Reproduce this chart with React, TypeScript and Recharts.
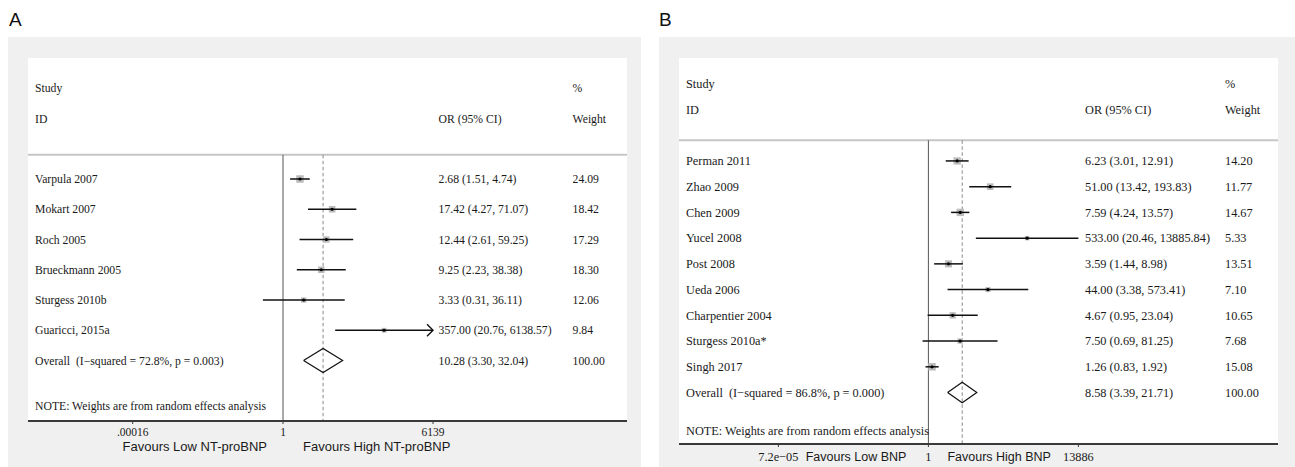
import React from 'react';
import { ScatterChart, Scatter, XAxis, YAxis, ReferenceLine, CartesianGrid } from 'recharts';

// ---- Panel A: NT-proBNP ----
const studiesA = ['Varpula 2007', 'Mokart 2007', 'Roch 2005', 'Brueckmann 2005', 'Sturgess 2010b', 'Guaricci, 2015a'];
const orA = [2.68, 17.42, 12.44, 9.25, 3.33, 357.0];
const lowA = [1.51, 4.27, 2.61, 2.23, 0.31, 20.76];
const highA = [4.74, 71.07, 59.25, 38.38, 36.11, 6138.57];
const weightA = [24.09, 18.42, 17.29, 18.3, 12.06, 9.84];
const arrowA = [false, false, false, false, false, true];
const overallA = [10.28, 3.3, 32.04]; // pooled OR, lower, upper
const hetA = 'Overall  (I\u2212squared = 72.8%, p = 0.003)';
const ticksA = [0.00016, 1, 6139];
const tickTextA = ['.00016', '1', '6139'];
const favoursA = ['Favours Low NT-proBNP', 'Favours High NT-proBNP'];

// ---- Panel B: BNP ----
const studiesB = ['Perman 2011', 'Zhao 2009', 'Chen 2009', 'Yucel 2008', 'Post 2008', 'Ueda 2006', 'Charpentier 2004', 'Sturgess 2010a*', 'Singh 2017'];
const orB = [6.23, 51.0, 7.59, 533.0, 3.59, 44.0, 4.67, 7.5, 1.26];
const lowB = [3.01, 13.42, 4.24, 20.46, 1.44, 3.38, 0.95, 0.69, 0.83];
const highB = [12.91, 193.83, 13.57, 13885.84, 8.98, 573.41, 23.04, 81.25, 1.92];
const weightB = [14.2, 11.77, 14.67, 5.33, 13.51, 7.1, 10.65, 7.68, 15.08];
const arrowB = [false, false, false, false, false, false, false, false, false];
const overallB = [8.58, 3.39, 21.71];
const hetB = 'Overall  (I\u2212squared = 86.8%, p = 0.000)';
const ticksB = [7.2e-5, 1, 13886];
const tickTextB = ['7.2e\u221205', '1', '13886'];
const favoursB = ['Favours Low BNP', 'Favours High BNP'];

const overallWeight = 100;
const note = 'NOTE: Weights are from random effects analysis';

const SERIF = "'Liberation Serif', 'Times New Roman', serif";
const SANS = "'Liberation Sans', Arial, sans-serif";
const INK = '#1a1a1a';

type Layout = {
  panelLeft: number;
  panelWidth: number;
  plotLeft: number;
  plotWidth: number;
  plotHeight: number;
  axisHeight: number;
  xDomain: [number, number];
  font: number;
  tickFont: number;
  favFont: number;
  tickDy: number;
  favDy: number;
  favGap: [number, number];
  colStudy: number;
  colOR: number;
  colW: number;
  box: number;
};

type PanelProps = {
  letter: string;
  studies: string[];
  or: number[];
  low: number[];
  high: number[];
  weight: number[];
  arrow: boolean[];
  overall: number[];
  het: string;
  ticks: number[];
  tickText: string[];
  favours: string[];
  layout: Layout;
};

const fmt = (v: number) => v.toFixed(2);
// the row-label axis needs a non-zero width to be drawn
const Y_AXIS_W = 1;

function Panel(p: PanelProps) {
  const L = p.layout;
  const n = p.studies.length;
  const yMin = -4;
  const yMax = n + 2;
  const sepRow = -0.8;
  const noteRow = n + 1.5;
  const o = p.overall;

  // text rows: [study column, OR column, weight column]
  const rows = new Map<number, string[]>();
  rows.set(-3, ['Study', '', '%']);
  rows.set(-2, ['ID', 'OR (95% CI)', 'Weight']);
  p.studies.forEach((s, i) =>
    rows.set(i, [s, `${fmt(p.or[i])} (${fmt(p.low[i])}, ${fmt(p.high[i])})`, fmt(p.weight[i])])
  );
  rows.set(n, [p.het, `${fmt(o[0])} (${fmt(o[1])}, ${fmt(o[2])})`, fmt(overallWeight)]);
  rows.set(noteRow, [note, '', '']);
  const rowKeys = Array.from(rows.keys());

  const pts = p.studies.map((_, i) => ({ x: p.or[i], y: i, w: p.weight[i] }));
  const maxW = Math.max(...p.weight);
  const arrowPts = pts.filter((_, i) => p.arrow[i]).map((d) => ({ x: p.high[d.y], y: d.y }));
  const diamond = [
    { x: o[1], y: n },
    { x: o[0], y: n - 0.4 },
    { x: o[2], y: n },
    { x: o[0], y: n + 0.4 },
    { x: o[1], y: n },
  ];

  const yTick = (props: any) => {
    const r = rows.get(props.payload.value);
    if (!r) return <g />;
    const y = props.y;
    const x0 = Y_AXIS_W;
    return (
      <g fontFamily={SERIF} fontSize={L.font} fill={INK}>
        <text x={x0 + L.colStudy} y={y} dy="0.35em" textAnchor="start" xmlSpace="preserve" style={{ whiteSpace: 'pre' }}>
          {r[0]}
        </text>
        {r[1] ? (
          <text x={x0 + L.colOR} y={y} dy="0.35em" textAnchor="start">
            {r[1]}
          </text>
        ) : null}
        {r[2] ? (
          <text x={x0 + L.colW} y={y} dy="0.35em" textAnchor="start">
            {r[2]}
          </text>
        ) : null}
      </g>
    );
  };

  const xTick = (props: any) => {
    const { x, y, payload } = props;
    let idx = p.ticks.findIndex((t) => Math.abs(t - payload.value) / t < 1e-6);
    if (idx < 0) idx = props.index;
    const isNull = p.ticks[idx] === 1;
    return (
      <g>
        <text x={x} y={y + L.tickDy} textAnchor="middle" fontFamily={SERIF} fontSize={L.tickFont} fill={INK}>
          {p.tickText[idx]}
        </text>
        {isNull ? (
          <g fontFamily={SANS} fontSize={L.favFont} fill={INK}>
            <text x={x - L.favGap[0]} y={y + L.favDy} textAnchor="end">
              {p.favours[0]}
            </text>
            <text x={x + L.favGap[1]} y={y + L.favDy} textAnchor="start">
              {p.favours[1]}
            </text>
          </g>
        ) : null}
      </g>
    );
  };

  const empty = () => <g />;

  return (
    <div
      style={{
        position: 'absolute',
        left: L.panelLeft,
        top: 37,
        width: L.panelWidth,
        height: 430,
        background: '#f0f0f0',
      }}
    >
      <div
        style={{
          position: 'absolute',
          left: L.plotLeft - L.panelLeft - Y_AXIS_W,
          top: 21,
        }}
      >
        <ScatterChart
          width={L.plotWidth + Y_AXIS_W}
          height={L.plotHeight + L.axisHeight}
          margin={{ top: 0, right: 0, bottom: 0, left: 0 }}
        >
          <CartesianGrid fill="#ffffff" horizontal={false} vertical={false} stroke="none" />
          <XAxis
            type="number"
            dataKey="x"
            scale="log"
            domain={L.xDomain}
            allowDataOverflow
            ticks={p.ticks}
            interval={0}
            height={L.axisHeight}
            tickSize={3}
            tickMargin={0}
            axisLine={{ stroke: '#3a3a3a', strokeWidth: 1.8 }}
            tickLine={{ stroke: '#3a3a3a', strokeWidth: 1 }}
            tick={xTick}
          />
          <YAxis
            type="number"
            dataKey="y"
            domain={[yMin, yMax]}
            reversed
            allowDataOverflow
            ticks={rowKeys}
            interval={0}
            width={Y_AXIS_W}
            axisLine={false}
            tickLine={false}
            tick={yTick}
          />
          <ReferenceLine y={sepRow} stroke="#c6c6c6" strokeWidth={2} />
          <ReferenceLine
            segment={[
              { x: 1, y: sepRow },
              { x: 1, y: yMax },
            ]}
            stroke="#555555"
            strokeWidth={1}
          />
          <ReferenceLine
            segment={[
              { x: o[0], y: sepRow },
              { x: o[0], y: yMax },
            ]}
            stroke="#8a8a8a"
            strokeWidth={1}
            strokeDasharray="3.5 2.5"
          />
          <Scatter
            data={pts}
            isAnimationActive={false}
            shape={(s: any) => {
              const side = L.box * Math.sqrt(s.payload.w / maxW);
              return <rect x={s.cx - side / 2} y={s.cy - side / 2} width={side} height={side} fill="#bcbcbc" />;
            }}
          />
          {pts.map((d, i) => (
            <Scatter
              key={'ci' + i}
              data={[
                { x: p.low[i], y: d.y },
                { x: p.high[i], y: d.y },
              ]}
              isAnimationActive={false}
              line={{ stroke: '#111111', strokeWidth: 1.5 }}
              shape={empty}
            />
          ))}
          <Scatter
            data={pts}
            isAnimationActive={false}
            shape={(s: any) => <circle cx={s.cx} cy={s.cy} r={1.6} fill="#000" />}
          />
          <Scatter
            data={arrowPts}
            isAnimationActive={false}
            shape={(s: any) => (
              <polyline
                points={`${s.cx - 6},${s.cy - 6} ${s.cx},${s.cy} ${s.cx - 6},${s.cy + 6}`}
                fill="none"
                stroke="#111111"
                strokeWidth={1.4}
              />
            )}
          />
          <Scatter
            data={diamond}
            isAnimationActive={false}
            line={{ stroke: '#111111', strokeWidth: 1.2 }}
            shape={empty}
          />
        </ScatterChart>
      </div>
      <div
        style={{
          position: 'absolute',
          left: 1 + (p.letter === 'A' ? 0 : -1),
          top: -27,
          fontFamily: SANS,
          fontSize: 19,
          lineHeight: '19px',
          color: '#111',
        }}
      >
        {p.letter}
      </div>
    </div>
  );
}

const layoutA: Layout = {
  panelLeft: 8,
  panelWidth: 633,
  plotLeft: 28,
  plotWidth: 599,
  plotHeight: 363,
  axisHeight: 46,
  xDomain: [Math.pow(10, -6.44), Math.pow(10, 8.687)],
  font: 11.7,
  tickFont: 11.5,
  favFont: 13,
  tickDy: 12,
  favDy: 26.5,
  favGap: [16, 20],
  colStudy: 7,
  colOR: 410.6,
  colW: 544.6,
  box: 7.5,
};

const layoutB: Layout = {
  panelLeft: 659,
  panelWidth: 636,
  plotLeft: 679,
  plotWidth: 599,
  plotHeight: 386,
  axisHeight: 23,
  xDomain: [Math.pow(10, -6.888), Math.pow(10, 9.655)],
  font: 12.3,
  tickFont: 12.3,
  favFont: 12.5,
  tickDy: 14,
  favDy: 14,
  favGap: [22, 19],
  colStudy: 7,
  colOR: 406,
  colW: 546,
  box: 7.5,
};

export default function App() {
  return (
    <div style={{ position: 'absolute', left: 0, top: 0, width: 1295, height: 467, background: '#ffffff', overflow: 'hidden' }}>
      <Panel
        letter="A"
        studies={studiesA}
        or={orA}
        low={lowA}
        high={highA}
        weight={weightA}
        arrow={arrowA}
        overall={overallA}
        het={hetA}
        ticks={ticksA}
        tickText={tickTextA}
        favours={favoursA}
        layout={layoutA}
      />
      <Panel
        letter="B"
        studies={studiesB}
        or={orB}
        low={lowB}
        high={highB}
        weight={weightB}
        arrow={arrowB}
        overall={overallB}
        het={hetB}
        ticks={ticksB}
        tickText={tickTextB}
        favours={favoursB}
        layout={layoutB}
      />
    </div>
  );
}
